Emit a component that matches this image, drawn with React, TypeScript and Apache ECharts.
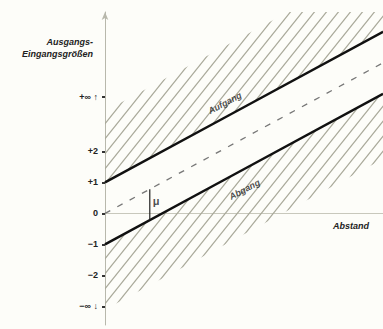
import React, { useEffect, useRef } from "react";
import * as echarts from "echarts";

// x positions (data units) where the straight lines are sampled
const xs = [0, 4, 9];
const upperLine = [1, 3.16, 5.86];
const midLine = [0, 2.16, 4.86];
const lowerLine = [-1, 1.16, 3.86];

// hatched bands: [x0, x1, edgeA0, edgeA1, edgeB0, edgeB1]
const hatchBands = [
  [0, 9, 1, 5.86, 3.3, 8.16],
  [0, 9, -1, 3.86, -3.1, 1.76],
];

// y tick values and their labels
const yTickValues = [-3, -2, -1, 0, 1, 2, 3.75];
const yTickLabels = ["−∞ ↓", "−2", "−1", "0", "+1", "+2", "+∞ ↑"];

// line captions
const captionUpper = { text: "Aufgang", x: 3.95, y: 3.13 };
const captionLower = { text: "Abgang", x: 4.45, y: 1.4 };
const muMarker = { x: 1.45, yTop: 0.78, yBottom: -0.22, labelX: 1.5, labelY: 0.4, text: "μ" };

const yName = "Ausgangs-\nEingangsgrößen";
const xName = "Abstand";

function makePattern() {
  const w = 12;
  const h = 15;
  const c = document.createElement("canvas");
  c.width = w;
  c.height = h;
  const ctx = c.getContext("2d")!;
  ctx.strokeStyle = "#a9a99a";
  ctx.lineWidth = 1.2;
  for (const k of [-w, 0, w]) {
    ctx.beginPath();
    ctx.moveTo(k - w / 15, h + 1);
    ctx.lineTo(k + w + w / 15, -1);
    ctx.stroke();
  }
  return { image: c, repeat: "repeat", imageWidth: w, imageHeight: h } as any;
}

export default function App() {
  const ref = useRef<HTMLDivElement>(null);
  useEffect(() => {
    if (!ref.current) return;
    const chart = echarts.init(ref.current, null, { renderer: "svg" });
    const pattern = makePattern();
    const pts = (vals: number[]) => xs.map((x, i) => [x, vals[i]]);
    const textFont = { fontFamily: "Liberation Sans", fontWeight: "bold" as const, fontSize: 9, color: "#222" };
    chart.setOption({
      animation: false,
      backgroundColor: "#fdfdf9",
      grid: { left: 105, right: 0, top: 12, bottom: 4, containLabel: false },
      xAxis: {
        type: "value",
        min: 0,
        max: 9,
        axisLine: { lineStyle: { color: "#c8c8bc", width: 1 } },
        axisTick: { show: false },
        axisLabel: { show: false },
        splitLine: { show: false },
        name: xName,
        nameLocation: "end",
        nameGap: -50,
        nameTextStyle: { ...textFont, fontStyle: "italic", verticalAlign: "top", align: "left", padding: [8, 0, 0, 0] },
      },
      yAxis: {
        type: "value",
        min: -3.6,
        max: 6.5,
        axisLine: { lineStyle: { color: "#b8b8ac", width: 1 }, symbol: ["none", "arrow"], symbolSize: [5, 8] },
        axisTick: { show: true, customValues: yTickValues, length: 3, lineStyle: { color: "#333", width: 2 } },
        axisLabel: {
          customValues: yTickValues,
          margin: 7,
          ...textFont,
          formatter: (v: number) => {
            const i = yTickValues.indexOf(v);
            return i >= 0 ? yTickLabels[i] : "";
          },
        },
        splitLine: { show: false },
        name: yName,
        nameLocation: "end",
        nameGap: -36,
        nameTextStyle: {
          ...textFont,
          fontStyle: "italic",
          align: "right",
          verticalAlign: "middle",
          lineHeight: 12,
          padding: [0, 12, 0, 0],
        },
      },
      series: [
        {
          type: "custom",
          clip: true,
          silent: true,
          data: hatchBands,
          encode: { x: [0, 1], y: [2, 3, 4, 5] },
          renderItem: (_p: any, api: any) => {
            const x0 = api.value(0), x1 = api.value(1);
            const a0 = api.value(2), a1 = api.value(3), b0 = api.value(4), b1 = api.value(5);
            const points = [api.coord([x0, a0]), api.coord([x1, a1]), api.coord([x1, b1]), api.coord([x0, b0])];
            return { type: "polygon", shape: { points }, style: { fill: pattern, stroke: null } };
          },
          z: 1,
        },
        {
          type: "line",
          data: pts(midLine),
          showSymbol: false,
          symbol: "none",
          lineStyle: { color: "#777", width: 1.3, type: [6, 8] },
          z: 2,
        },
        {
          type: "line",
          data: pts(upperLine),
          showSymbol: false,
          symbol: "none",
          lineStyle: { color: "#111", width: 2.5 },
          z: 3,
        },
        {
          type: "line",
          data: pts(lowerLine),
          showSymbol: false,
          symbol: "none",
          lineStyle: { color: "#111", width: 2.5 },
          z: 3,
        },
        {
          type: "line",
          data: [
            [muMarker.x, muMarker.yTop],
            [muMarker.x, muMarker.yBottom],
          ],
          showSymbol: false,
          symbol: "none",
          lineStyle: { color: "#222", width: 1.2 },
          z: 3,
        },
        {
          type: "scatter",
          symbolSize: 1,
          itemStyle: { color: "rgba(0,0,0,0)" },
          data: [
            {
              value: [captionUpper.x, captionUpper.y],
              label: { show: true, formatter: captionUpper.text, position: "top", distance: 9, rotate: 28, ...textFont, fontStyle: "italic" },
            },
            {
              value: [captionLower.x, captionLower.y],
              label: { show: true, formatter: captionLower.text, position: "bottom", distance: 15, rotate: 28, ...textFont, fontStyle: "italic" },
            },
            {
              value: [muMarker.labelX, muMarker.labelY],
              label: { show: true, formatter: muMarker.text, position: "right", distance: 1, ...textFont, fontSize: 11 },
            },
          ],
          z: 4,
        },
      ],
    });
    return () => chart.dispose();
  }, []);
  return <div ref={ref} style={{ position: "fixed", left: 0, top: 0, width: 383, height: 329 }} />;
}
